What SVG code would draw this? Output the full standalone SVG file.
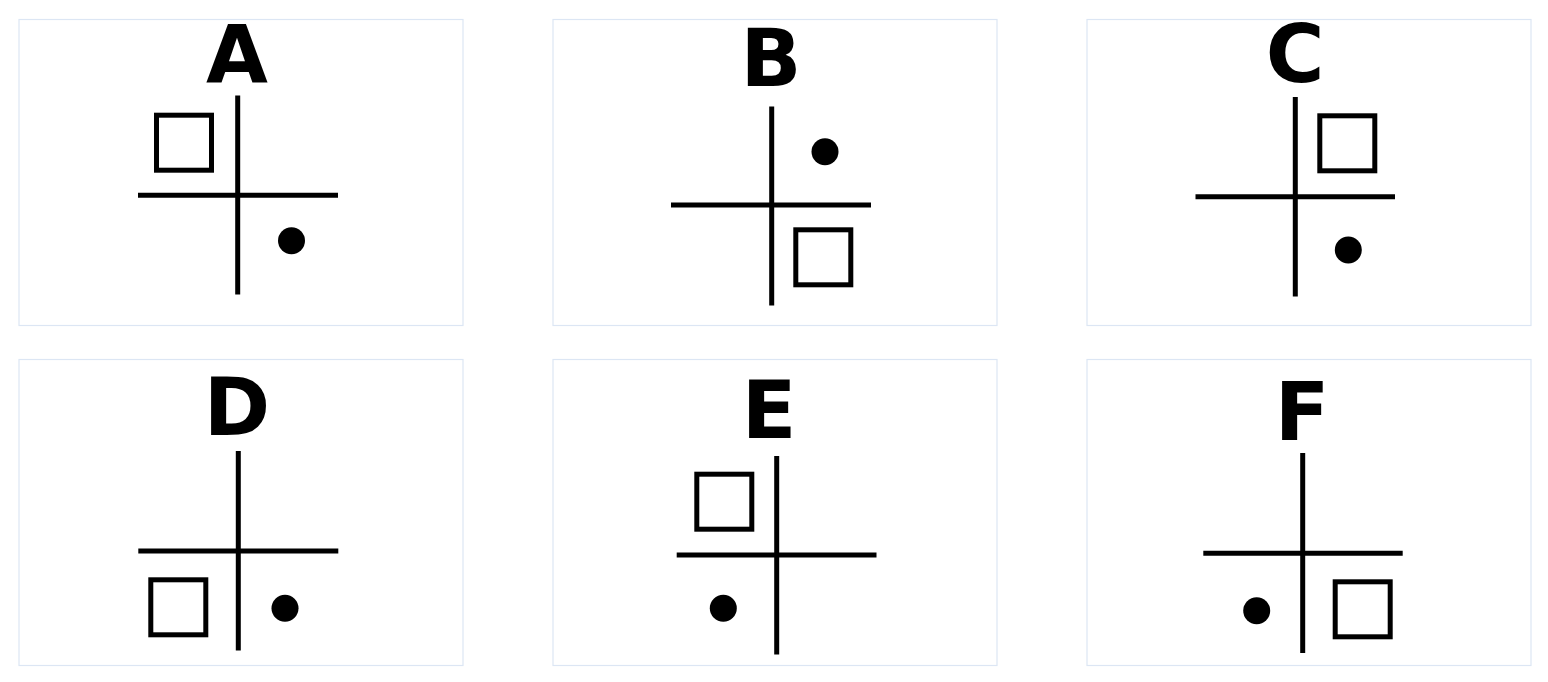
<svg xmlns="http://www.w3.org/2000/svg" width="1548" height="682" viewBox="0 0 1548 682">
<style>
.panel{fill:#ffffff;stroke:#dce6f4;stroke-width:1.2}
.ax{stroke:#000;stroke-width:5;fill:none}
.sq{fill:none;stroke:#000;stroke-width:5}
.dot{fill:#000}
.lbl{font-family:"DejaVu Sans",sans-serif;font-weight:bold;font-size:80px;fill:#000;text-anchor:middle}
</style>
<rect width="1548" height="682" fill="#ffffff"/>
<g id="panelA">
<rect class="panel" x="19" y="19.5" width="444" height="306"/>
<text class="lbl" x="237" y="83">A</text>
<line class="ax" x1="237.7" y1="95.5" x2="237.7" y2="294.5"/>
<line class="ax" x1="138" y1="195.3" x2="338" y2="195.3"/>
<rect class="sq" x="156.5" y="115.2" width="55" height="55"/>
<circle class="dot" cx="291.5" cy="240.7" r="13.5"/>
</g>
<g id="panelB">
<rect class="panel" x="553" y="19.5" width="444" height="306"/>
<text class="lbl" x="771" y="86">B</text>
<line class="ax" x1="771.7" y1="106.5" x2="771.7" y2="305.5"/>
<line class="ax" x1="671" y1="205" x2="871" y2="205"/>
<rect class="sq" x="795.8" y="229.8" width="55" height="55"/>
<circle class="dot" cx="825" cy="151.7" r="13.5"/>
</g>
<g id="panelC">
<rect class="panel" x="1087" y="19.5" width="444" height="306"/>
<text class="lbl" x="1295" y="82">C</text>
<line class="ax" x1="1295.3" y1="97" x2="1295.3" y2="296.5"/>
<line class="ax" x1="1195.5" y1="196.7" x2="1395" y2="196.7"/>
<rect class="sq" x="1319.8" y="115.8" width="55" height="55"/>
<circle class="dot" cx="1348.3" cy="250" r="13.5"/>
</g>
<g id="panelD">
<rect class="panel" x="19" y="359.5" width="444" height="306"/>
<text class="lbl" x="237" y="435">D</text>
<line class="ax" x1="238.3" y1="451" x2="238.3" y2="650.5"/>
<line class="ax" x1="138.3" y1="551" x2="338.3" y2="551"/>
<rect class="sq" x="150.8" y="579.8" width="55" height="55"/>
<circle class="dot" cx="285" cy="608.3" r="13.5"/>
</g>
<g id="panelE">
<rect class="panel" x="553" y="359.5" width="444" height="306"/>
<text class="lbl" x="769" y="438">E</text>
<line class="ax" x1="776.7" y1="456" x2="776.7" y2="654.5"/>
<line class="ax" x1="676.7" y1="555" x2="876.5" y2="555"/>
<rect class="sq" x="696.8" y="474.2" width="55" height="55"/>
<circle class="dot" cx="723.3" cy="608.3" r="13.5"/>
</g>
<g id="panelF">
<rect class="panel" x="1087" y="359.5" width="444" height="306"/>
<text class="lbl" x="1302" y="440">F</text>
<line class="ax" x1="1302.7" y1="453" x2="1302.7" y2="653"/>
<line class="ax" x1="1203.3" y1="553.3" x2="1402.7" y2="553.3"/>
<rect class="sq" x="1335.2" y="581.8" width="55" height="55"/>
<circle class="dot" cx="1256.7" cy="610.7" r="13.5"/>
</g>
<g id="connectors"></g>
</svg>
